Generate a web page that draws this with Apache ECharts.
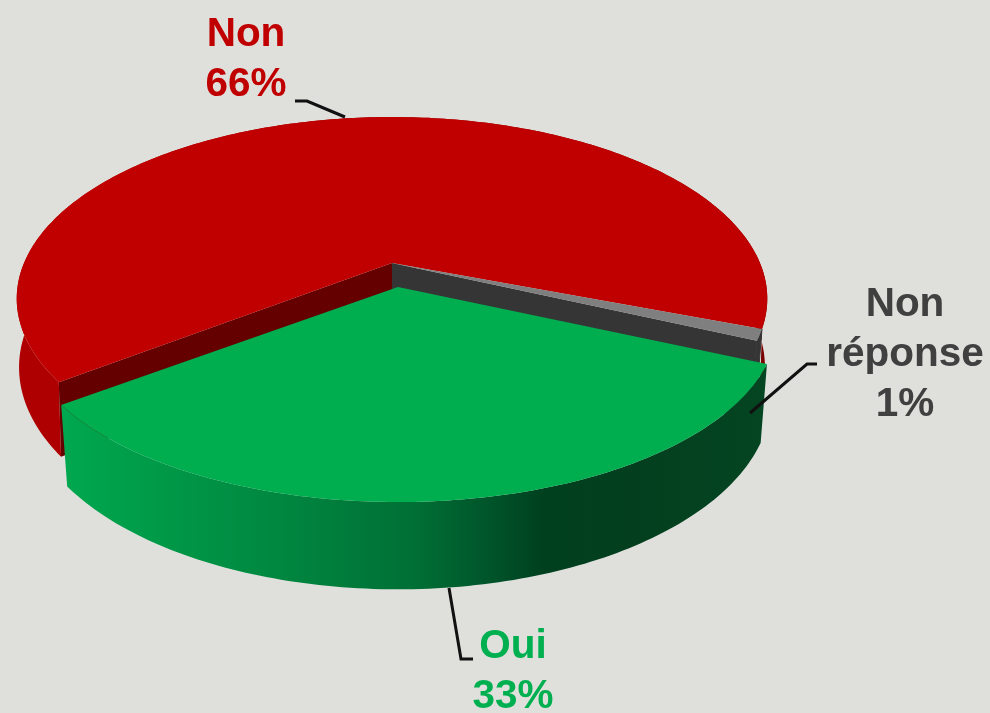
<!DOCTYPE html>
<html>
<head>
<meta charset="utf-8">
<style>html,body{margin:0;padding:0;background:#dfe0dc}#main{width:990px;height:713px}</style>
<script src="https://cdn.jsdelivr.net/npm/echarts@6/dist/echarts.min.js"></script>
</head>
<body>
<div id="main"></div>
<script>
// data
var categories = ['Non', 'Non réponse', 'Oui'];
var labelLines = ['Non', 'Non\nréponse', 'Oui'];
var values = [66, 1, 33];

// colours per slice
var topColors = ['#c00000', '#7f7f7f', '#00ae50'];
var radialColors = ['#640000', '#353535', null];
var textColors = ['#c00000', '#404040', '#00b050'];
var wallColors = [
  [[0, '#ae0000'], [0.6, '#900000'], [1, '#7a0000']],
  [[0, '#353535'], [1, '#353535']],
  [[0, '#00a84f'], [0.28, '#008a41'], [0.5, '#006f35'], [0.62, '#005028'], [0.68, '#00401f'], [0.8, '#033f1e'], [1, '#044522']]
];

// projection of the disc, with some perspective
var startAngle = 143;
var persp = 0.196;
// one entry per slice: the green one is pulled out of the pie
var centers = [[392, 263], [392, 263], [398, 287]];
var discRx = [368, 368, 372];
var discRy = [174.6, 174.6, 172.9];
var depths = [67, 75, 75];
var depthPersp = [0.006, 0.016, 0.016];

function project(i, deg, r, z) {
  var a = deg * Math.PI / 180;
  var u = Math.cos(a) * r, v = Math.sin(a) * r;
  var w = 1 - persp * v + depthPersp[i] * z;
  return [centers[i][0] + discRx[i] * u / w, centers[i][1] + (discRy[i] * v + depths[i] * z) / w];
}

function arc(i, from, to, z) {
  var pts = [];
  var n = Math.max(2, Math.ceil(to - from));
  for (var k = 0; k <= n; k++) {
    pts.push(project(i, from + (to - from) * k / n, 1, z));
  }
  return pts;
}

function sliceStart(idx) {
  var total = values.reduce(function (s, x) { return s + x; }, 0);
  var sum = 0;
  for (var i = 0; i < idx; i++) sum += values[i];
  return startAngle + sum / total * 360;
}

function renderSlice(params, api) {
  var i = params.dataIndex;
  var total = values.reduce(function (s, x) { return s + x; }, 0);
  var from = sliceStart(i);
  var to = from + api.value(0) / total * 360;
  var topArc = arc(i, from, to, 0);
  var botArc = arc(i, from, to, 1);
  var wall = {
    type: 'linear', x: 62, y: 0, x2: 770, y2: 0, global: true,
    colorStops: wallColors[i].map(function (s) { return { offset: s[0], color: s[1] }; })
  };
  var children = [];
  // outer wall
  children.push({
    type: 'polygon',
    shape: { points: topArc.concat(botArc.slice().reverse()) },
    style: { fill: wall, stroke: i === 1 ? '#353535' : null, lineWidth: 1 }
  });
  // cut face, the green slice shows none
  if (radialColors[i]) {
    var edge = i === 1 ? to : from;
    children.push({
      type: 'polygon',
      shape: { points: [project(i, edge, 0, 0), project(i, edge, 1, 0), project(i, edge, 1, 1), project(i, edge, 0, 1)] },
      style: { fill: radialColors[i] }
    });
  }
  // top face
  children.push({
    type: 'polygon',
    shape: { points: [project(i, from, 0, 0)].concat(topArc) },
    style: { fill: topColors[i] }
  });
  return { type: 'group', children: children };
}

var leaders = [
  [[295, 101], [307, 101], [345, 117]],
  [[817, 364], [807, 364], [750, 413]],
  [[449, 588], [461, 659], [473, 659]]
];
var labelPos = [[246, 10], [905, 280], [513, 622]];

var graphics = [];
leaders.forEach(function (pts) {
  graphics.push({
    type: 'polyline', z: 10,
    shape: { points: pts },
    style: { stroke: '#111', lineWidth: 3, fill: null }
  });
});
categories.forEach(function (name, i) {
  graphics.push({
    type: 'text', z: 10,
    x: labelPos[i][0], y: labelPos[i][1],
    style: {
      text: labelLines[i] + '\n' + values[i] + '%',
      fill: textColors[i],
      font: 'bold 40.5px "Liberation Sans", Arial, sans-serif',
      lineHeight: 50,
      align: 'center',
      verticalAlign: 'top'
    }
  });
});

var myChart = echarts.init(document.getElementById('main'));
var option = {
  backgroundColor: '#dfe0dc',
  animation: false,
  graphic: graphics,
  series: [{
    type: 'custom',
    coordinateSystem: 'none',
    silent: true,
    renderItem: renderSlice,
    data: values.map(function (v, i) { return { name: categories[i], value: [v] }; })
  }]
};
myChart.setOption(option);
</script>
</body>
</html>
